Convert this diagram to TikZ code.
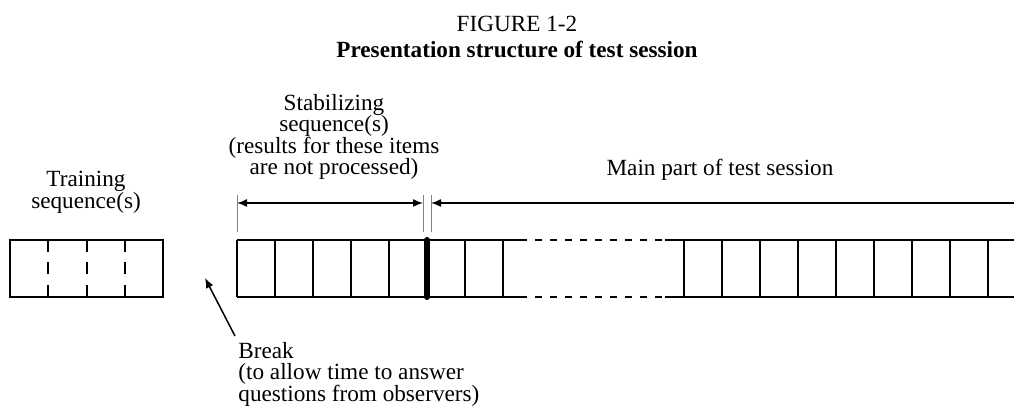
\documentclass[tikz,border=0pt]{standalone}
\usepackage{fontspec}
\setmainfont{Liberation Serif}
\usetikzlibrary{positioning, arrows.meta}

\begin{document}
\begin{tikzpicture}[
  x=0.5pt, y=-0.5pt,
  label/.style={font=\fontsize{11.6}{10.75}\selectfont, inner sep=0pt, align=center},
  cell/.style={draw, line width=1pt},
  gap/.style={line width=1pt, dash pattern=on 3.5pt off 4pt},
  divider/.style={line width=1pt, dash pattern=on 6pt off 5.25pt},
  guide/.style={draw=gray, line width=0.5pt},
  dim/.style={line width=0.75pt, {Latex[length=5pt,width=4pt]}-{Latex[length=5pt,width=4pt]}},
  arrow/.style={-{Latex[length=5pt,width=4pt]}, line width=0.75pt}
]

\useasboundingbox (0,0) rectangle (1014,410);

% Title
\node[label, anchor=base] (fig) at (517,32) {FIGURE 1-2};
\node[label, anchor=base, font=\fontsize{11.6}{10.75}\selectfont\bfseries] (title) at (517,58) {Presentation structure of test session};

% Training sequence(s)
\node[label, anchor=north] (train) at (86,171) {Training\\sequence(s)};
\draw[cell] (10,240) rectangle (163,297);
\foreach \x in {1,2,3} \draw[divider] (10+38.25*\x,240) -- (10+38.25*\x,297);

% Stabilizing sequence(s)
\node[label, anchor=north] (stab) at (334,94) {Stabilizing\\sequence(s)\\(results for these items\\are not processed)};
\draw[cell] (237,240) -- (520,240) (237,297) -- (520,297);
\foreach \x in {0,...,7} \draw[cell] (237+38*\x,240) -- ++(0,57);
\draw[line width=3pt, line cap=round] (427,240) -- (427,297);

% Gap
\draw[gap] (520,240) -- (665,240) (520,297) -- (665,297);

% Main part of test session
\node[label, anchor=base] (main) at (720,176) {Main part of test session};
\draw[cell] (665,240) -- (1014,240) (665,297) -- (1014,297);
\foreach \x in {0,...,8} \draw[cell] (684+38*\x,240) -- ++(0,57);

% Dimension lines
\coordinate (s1) at (237,203);
\coordinate (s2) at (423,203);
\coordinate (m1) at (431,203);
\coordinate (m2) at (1014,203);
\draw[guide] (237,195) -- (237,232);
\draw[guide] (423,195) -- (423,232);
\draw[guide] (431,195) -- (431,232);
\draw[dim] (s1) -- (s2);
\draw[arrow] (m2) -- (m1);

% Break
\node[label, anchor=north west, align=left] (brk) at (238,342) {Break\\(to allow time to answer\\questions from observers)};
\coordinate (pause) at (205,278);
\draw[arrow] ([shift={(-3,-6)}]brk.north west) -- (pause);

\end{tikzpicture}
\end{document}
